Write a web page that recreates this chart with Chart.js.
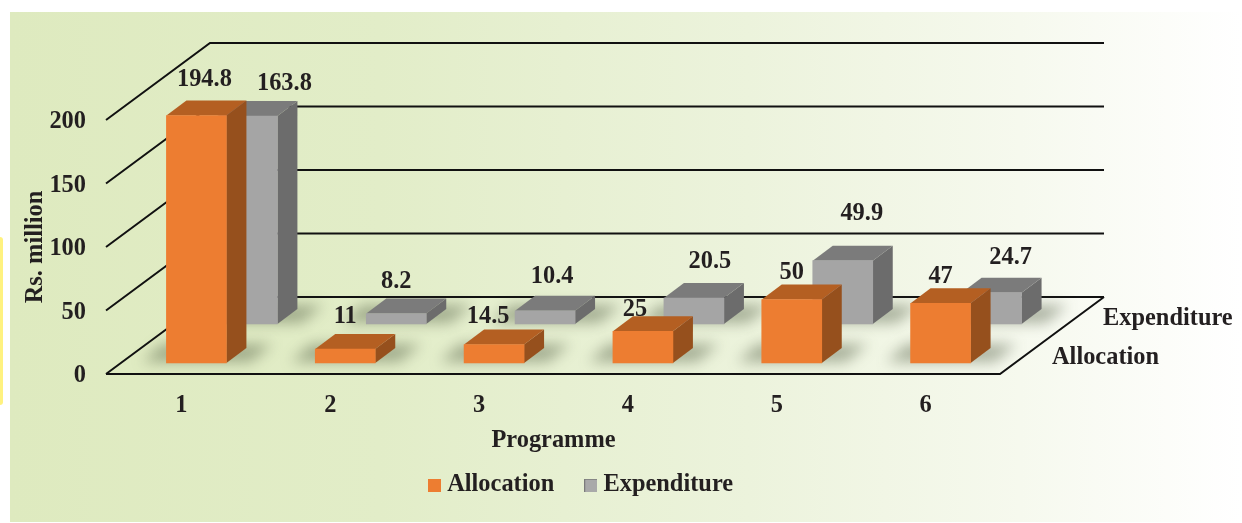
<!DOCTYPE html>
<html><head><meta charset="utf-8">
<style>
html,body{margin:0;padding:0;background:#fff;width:1242px;height:523px;overflow:hidden}
#panel{position:absolute;left:10px;top:12px;width:1232px;height:510px;background:linear-gradient(90deg,#deeabf 0%,#e2edc8 30%,#ecf3dc 60%,#f6f9ee 82%,#ffffff 100%)}
#strip{position:absolute;left:0;top:237px;width:3px;height:168px;background:#fff27f;border-radius:0 3px 3px 0}
canvas{position:absolute;left:0;top:0}
</style>
<script src="https://cdn.jsdelivr.net/npm/chart.js@4"></script>
</head><body>
<div id="panel"></div><div id="strip"></div>
<canvas id="c" width="1242" height="523"></canvas>
<script>
const categories = ['1','2','3','4','5','6'];
const allocation = [194.8, 11, 14.5, 25, 50, 47];
const expenditure = [163.8, 8.2, 10.4, 20.5, 49.9, 24.7];
const allocationLabels = ['194.8','11','14.5','25','50','47'];
const expenditureLabels = ['163.8','8.2','10.4','20.5','49.9','24.7'];

const FONT = '"Liberation Serif","Times New Roman",serif';
const SIZE = 24.4;
const INK = '#231f20';
const LINE = '#111111';
// Oblique projection: offset of each data row and of the back wall from the front axis line
const rows = [
  {dx:15, dy:-11, front:'#ed7d31', top:'#b45f22', side:'#96501d'},
  {dx:66, dy:-50, front:'#a5a5a5', top:'#7b7b7b', side:'#6c6c6c'}
];
const wall = {dx:103, dy:-77};
const depth = {dx:20, dy:-15};
// Manual data-label placement relative to each bar's top-centre
const labelOffsets = [
  [[23,-47],[15,-43],[9,-39],[7,-33],[15,-38],[15,-38]],
  [[103,-82],[66,-82],[73,-84],[82,-86],[85,-97],[85,-85]]
];

function swatch(color, edge){
  const k=document.createElement('canvas'); k.width=13; k.height=13;
  const g=k.getContext('2d'); g.fillStyle=color; g.fillRect(0,0,13,13);
  if(edge){g.fillStyle=edge; g.fillRect(0,0,13,1); g.fillRect(0,0,1,13);}
  return k;
}
const swatches=[swatch('#ed7d31'),swatch('#a9a9a9','#7b7b7b')];

function poly(ctx,pts,fill){
  ctx.beginPath(); pts.forEach((p,i)=>i?ctx.lineTo(p[0],p[1]):ctx.moveTo(p[0],p[1]));
  ctx.closePath(); ctx.fillStyle=fill; ctx.fill();
}

const scene3d = {
  id:'scene3d',
  beforeLayout(chart){
    const lg=chart.legend;
    if(lg && !lg._fixedFit){
      const f=lg.fit;
      lg.fit=function(){f.call(this); this.height=50;};
      lg._fixedFit=true;
    }
  },
  afterLayout(chart){
    const lg=chart.legend; lg.left=398; lg.top=437; lg.bottom=523;
  },
  beforeDatasetsDraw(chart){
    const {ctx,scales:{x,y},chartArea:a}=chart;
    ctx.save();
    // walls, gridlines and floor from the value scale
    ctx.strokeStyle=LINE; ctx.lineWidth=2; ctx.lineCap='butt';
    y.ticks.forEach(t=>{
      const py=y.getPixelForValue(t.value);
      ctx.beginPath();
      ctx.moveTo(a.left-1,py);
      ctx.lineTo(a.left+wall.dx,py+wall.dy);
      ctx.lineTo(a.right+wall.dx+1,py+wall.dy);
      ctx.stroke();
    });
    const y0=y.getPixelForValue(0);
    ctx.beginPath();
    ctx.moveTo(a.left-1,y0); ctx.lineTo(a.right,y0); ctx.lineTo(a.right+wall.dx+1,y0+wall.dy);
    ctx.stroke();
    // soft floor shadows
    ctx.filter='blur(7px)';
    [1,0].forEach(d=>{
      const r=rows[d];
      chart.getDatasetMeta(d).data.forEach(el=>{
        const l=el.x-el.width/2+r.dx, rt=el.x+el.width/2+r.dx, b=el.base+r.dy;
        poly(ctx,[[l-24,b-1],[rt+24,b-1],[rt+46,b-19],[l-4,b-19]],'rgba(70,80,55,0.42)');
      });
    });
    ctx.filter='none';
    ctx.restore();
  },
  beforeDatasetDraw(chart,args){
    const {ctx}=chart; const r=rows[args.index];
    ctx.save(); ctx.translate(r.dx,r.dy);
    args.meta.data.forEach(el=>{
      const l=el.x-el.width/2, rt=el.x+el.width/2;
      poly(ctx,[[rt,el.y],[rt+depth.dx,el.y+depth.dy],[rt+depth.dx,el.base+depth.dy],[rt,el.base]],r.side);
      poly(ctx,[[l,el.y],[l+depth.dx,el.y+depth.dy],[rt+depth.dx,el.y+depth.dy],[rt,el.y]],r.top);
    });
  },
  afterDatasetDraw(chart){ chart.ctx.restore(); },
  afterDatasetsDraw(chart){
    const {ctx}=chart;
    ctx.save();
    ctx.font='bold '+SIZE+'px '+FONT; ctx.fillStyle=INK;
    ctx.textAlign='center'; ctx.textBaseline='middle';
    [allocationLabels,expenditureLabels].forEach((labels,d)=>{
      chart.getDatasetMeta(d).data.forEach((el,i)=>{
        ctx.fillText(labels[i],el.x+labelOffsets[d][i][0],el.y+labelOffsets[d][i][1]);
      });
    });
    ctx.textAlign='left';
    ctx.fillText(chart.data.datasets[1].label,1103,319);
    ctx.fillText(chart.data.datasets[0].label,1052,358);
    ctx.restore();
  }
};

new Chart(document.getElementById('c'),{
  type:'bar',
  data:{labels:categories,datasets:[
    {label:'Allocation',data:allocation,backgroundColor:'#ed7d31',clip:false,grouped:false,barThickness:60},
    {label:'Expenditure',data:expenditure,backgroundColor:'#a5a5a5',clip:false,grouped:false,barThickness:60}
  ]},
  options:{
    responsive:false,animation:false,
    layout:{autoPadding:false,padding:{left:0,top:120,right:242,bottom:0}},
    font:{family:FONT},
    scales:{
      x:{
        grid:{display:false,tickLength:0},border:{display:false},
        ticks:{color:INK,font:{family:FONT,size:SIZE,weight:'bold'},padding:17,maxRotation:0},
        title:{display:true,text:'Programme',color:INK,font:{family:FONT,size:SIZE,weight:'bold'},padding:{top:0,bottom:18}},
        afterFit(s){s.height=99;}
      },
      y:{
        min:0,max:200,
        grid:{display:false,tickLength:0},border:{display:false},
        ticks:{stepSize:50,color:INK,font:{family:FONT,size:SIZE,weight:'bold'},padding:21,labelOffset:2},
        title:{display:true,text:'Rs. million',color:INK,font:{family:FONT,size:SIZE,weight:'bold'},padding:{top:21,bottom:0}},
        afterFit(s){s.width=107;}
      }
    },
    plugins:{
      tooltip:{enabled:false},
      legend:{
        position:'bottom',align:'start',
        labels:{
          usePointStyle:true,boxWidth:1,padding:36,color:INK,
          font:{family:FONT,size:SIZE,weight:'bold'},
          generateLabels(chart){
            return Chart.defaults.plugins.legend.labels.generateLabels(chart)
              .map((it,i)=>Object.assign(it,{pointStyle:swatches[i]}));
          }
        }
      }
    }
  },
  plugins:[scene3d]
});
</script>
</body></html>
